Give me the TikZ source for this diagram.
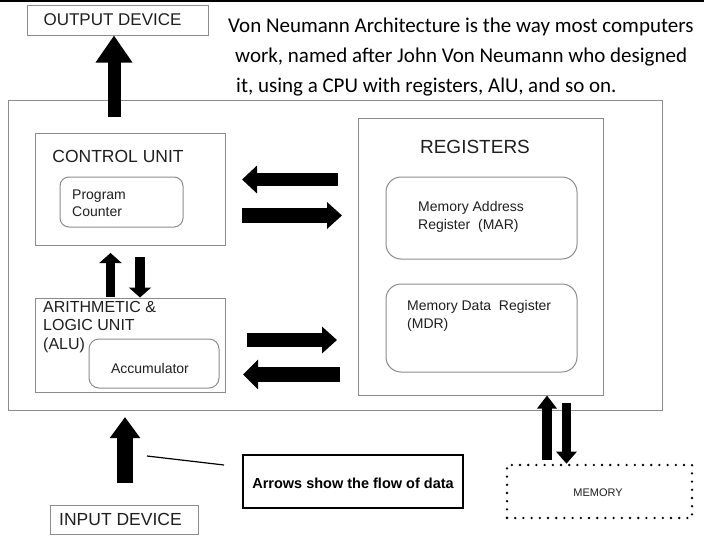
\documentclass[tikz,border=0pt]{standalone}
\usepackage{fontspec}
\setmainfont{Liberation Sans}
\newfontfamily\calibri{Carlito}
\usetikzlibrary{arrows.meta}
\definecolor{boxgray}{gray}{0.55}
\definecolor{inkgray}{gray}{0.12}
\newcommand{\fsize}[2]{\fontsize{#1}{#2}\selectfont}
\tikzset{
  box/.style={draw=boxgray, line width=1pt, inner sep=0pt},
  roundbox/.style={box, rounded corners=#1},
  fatarrow/.style n args={3}{line width=#1, -{Triangle[width=#2,length=#3]}},
  label/.style={text=inkgray, inner sep=0pt},
  intro/.style={anchor=base west, inner sep=0pt, font=\calibri\fsize{21}{25}}
}
\begin{document}
\begin{tikzpicture}[x=1pt, y=-1pt]
\useasboundingbox[fill=white] (0,0) rectangle (704,538);

% top rule
\draw[line width=2pt] (0,1) -- (704,1);

% output device
\node[box, minimum width=181, minimum height=30] (outdev) at (117.5,20) {};
\node[label, font=\fsize{17}{20}] (outtxt) at (112.5,20) {OUTPUT DEVICE};

% the text top right
\node[intro] (intro1) at (228,32.5) {Von Neumann Architecture is the way most computers};
\node[intro] (intro2) at (235,62) {work, named after John Von Neumann who designed};
\node[intro] (intro3) at (236,92) {it, using a CPU with registers, AlU, and so on.};

% cpu box
\node[box, minimum width=654, minimum height=310] (cpu) at (335,255) {};

% control unit
\node[box, minimum width=190, minimum height=112] (cu) at (130,189) {};
\node[label, font=\fsize{17.5}{20}] (cutitle) at (118,156) {CONTROL UNIT};
\node[roundbox=9, minimum width=123, minimum height=50] (pc) at (121.5,202) {};
\node[label, anchor=west, align=left, font=\fsize{14}{17}] (pctxt) at (72,203) {Program\\Counter};

% alu
\node[box, minimum width=190, minimum height=94] (alu) at (130,345) {};
\node[label, anchor=north west, align=left, font=\fsize{16}{18.5}] (alutxt) at (43,301) {ARITHMETIC \&\\LOGIC UNIT\\(ALU)};
\node[roundbox=10, minimum width=130, minimum height=49] (acc) at (154,363.5) {};
\node[label, font=\fsize{14}{17}] (acctxt) at (150,368) {Accumulator};

% registers
\node[box, minimum width=245, minimum height=277] (reg) at (480.5,256.5) {};
\node[label, font=\fsize{19}{22}] (regtitle) at (475,147) {REGISTERS};
\node[roundbox=15, minimum width=191, minimum height=82] (mar) at (481.5,218) {};
\node[label, anchor=west, align=left, font=\fsize{14}{18}] (martxt) at (418,217) {Memory Address\\Register\ \ (MAR)};
\node[roundbox=15, minimum width=191, minimum height=88] (mdr) at (481.5,328) {};
\node[label, anchor=west, align=left, font=\fsize{14}{18}] (mdrtxt) at (407,316) {Memory Data\ \ Register\\(MDR)};

% memory
\node[draw, line width=2.6pt, line cap=round, dash pattern=on 0pt off 8.2pt, minimum width=185, minimum height=53, inner sep=0pt] (mem) at (599.5,491.5) {};
\node[label, font=\fsize{11}{13}] (memtxt) at (598,493) {MEMORY};

% input device
\node[box, minimum width=148, minimum height=29] (indev) at (124,519.5) {};
\node[label, font=\fsize{17.5}{20}] (intxt) at (120.5,519.5) {INPUT DEVICE};

% note box
\node[draw, line width=1.8pt, minimum width=220, minimum height=53, inner sep=0pt] (note) at (353,481.5) {};
\node[inner sep=0pt, font=\fsize{14.5}{17}\bfseries] (notetxt) at (353,483) {Arrows show the flow of data};

% arrow ends
\coordinate (outfoot) at (114,117);
\coordinate (infoot) at (125,483);
\coordinate (intip) at (125,417);
\coordinate (linea) at (147,456);
\coordinate (lineb) at (224,465);
\coordinate (ra) at (338,179.5);
\coordinate (ca) at (242,179.5);
\coordinate (cb) at (242,215.5);
\coordinate (rb) at (342,215.5);
\coordinate (ac) at (247,340);
\coordinate (rc) at (337,340);
\coordinate (rd) at (340,374.5);
\coordinate (ad) at (243,374.5);
\coordinate (upa) at (110.5,297);
\coordinate (upb) at (110.5,253);
\coordinate (dna) at (140,257);
\coordinate (mup) at (547,460);
\coordinate (mdn) at (566.5,403);

% cpu -> output
\draw[fatarrow={13pt}{35pt}{27pt}] (outfoot) -- (outfoot |- outdev.south);
% input -> cpu
\draw[fatarrow={16pt}{29pt}{21pt}] (infoot) -- (intip);
\draw[line width=1.2pt] (linea) -- (lineb);

% cu <-> registers
\draw[fatarrow={13pt}{27pt}{15pt}] (ra) -- (ca);
\draw[fatarrow={15pt}{26pt}{15pt}] (cb) -- (rb);
% alu <-> registers
\draw[fatarrow={14pt}{26pt}{15pt}] (ac) -- (rc);
\draw[fatarrow={15pt}{29pt}{15pt}] (rd) -- (ad);
% alu <-> cu
\draw[fatarrow={9pt}{22pt}{10pt}] (upa) -- (upb);
\draw[fatarrow={10pt}{22pt}{10pt}] (dna) -- (dna |- alu.north);
% memory <-> registers
\draw[fatarrow={10pt}{19pt}{13pt}] (mup) -- (mup |- reg.south);
\draw[fatarrow={9pt}{20pt}{12pt}] (mdn) -- (mdn |- mem.north);

\end{tikzpicture}
\end{document}
